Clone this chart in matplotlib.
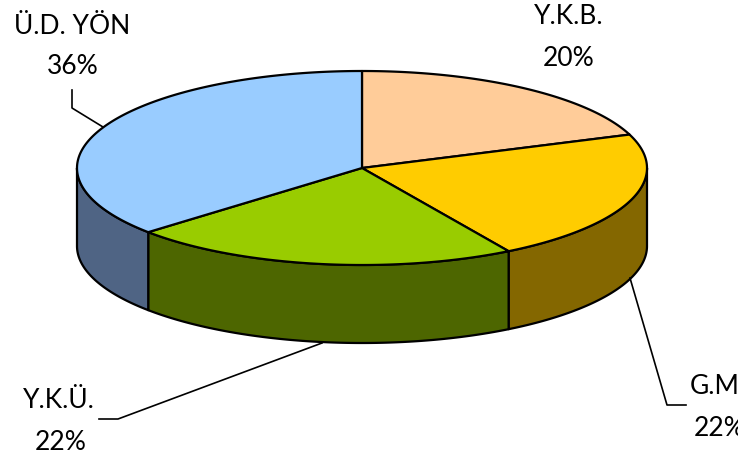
import numpy as np
import matplotlib
matplotlib.use("Agg")
import matplotlib.pyplot as plt
from matplotlib.patches import Polygon

labels = ["Y.K.B.", "G.M", "Y.K.Ü.", "Ü.D. YÖN"]
values = [19.4, 22.0, 22.1, 36.5]
percent_labels = ["20%", "22%", "22%", "36%"]
top_colors = ["#FFCC99", "#FFCC00", "#99CC00", "#99CCFF"]
side_colors = ["#866B50", "#846700", "#4D6600", "#4F6484"]

cx, cy, rx, ry, depth = 362, 168, 285, 97, 78

def arc(t0, t1, dy=0):
	t = np.radians(np.linspace(t0, t1, 200))
	return np.column_stack([cx + rx * np.cos(t), cy + dy - ry * np.sin(t)])

plt.rcParams['font.family'] = ['Lato', 'DejaVu Sans']
fig = plt.figure(figsize=(7.54, 4.59), dpi=100)
# axes stop short of the right edge, the G.M label gets cut there
ax = fig.add_axes([0, 0, 738 / 754, 1])
ax.set_xlim(0, 738)
ax.set_ylim(459, 0)
ax.axis("off")

# angles run clockwise from 12 o'clock
edges = 90 - np.cumsum([0] + values) * 3.6

# side walls, only the front half of the rim shows
for i in range(len(values)):
	hi = min(edges[i], 0)
	lo = max(edges[i + 1], -180)
	if hi > lo:
		ax.add_patch(Polygon(np.vstack([arc(hi, lo), arc(lo, hi, depth)]), closed=True,
			facecolor=side_colors[i], edgecolor="black", linewidth=1.6, joinstyle="round"))

# top slices
for i in range(len(values)):
	pts = np.vstack([[[cx, cy]], arc(edges[i], edges[i + 1])])
	ax.add_patch(Polygon(pts, closed=True, facecolor=top_colors[i], edgecolor="black",
		linewidth=1.6, joinstyle="round"))

# leader lines
ax.plot([72, 72, 103], [90, 108, 127], color="black", lw=1.2)
ax.plot([630, 667, 686], [278, 405, 405], color="black", lw=1.2)
ax.plot([322, 118, 99], [343, 419, 419], color="black", lw=1.2)

fs = 19
ax.text(72, 26, labels[3], fontsize=fs, ha="center", va="center", clip_on=True)
ax.text(73, 66, percent_labels[3], fontsize=fs, ha="center", va="center", clip_on=True)
ax.text(569, 17, labels[0], fontsize=fs, ha="center", va="center", clip_on=True)
ax.text(569, 58, percent_labels[0], fontsize=fs, ha="center", va="center", clip_on=True)
ax.text(690, 387, labels[1], fontsize=fs, ha="left", va="center", clip_on=True)
ax.text(694, 428, percent_labels[1], fontsize=fs, ha="left", va="center", clip_on=True)
ax.text(59, 401, labels[2], fontsize=fs, ha="center", va="center", clip_on=True)
ax.text(61, 442, percent_labels[2], fontsize=fs, ha="center", va="center", clip_on=True)

fig.savefig("out.png", dpi=100)
